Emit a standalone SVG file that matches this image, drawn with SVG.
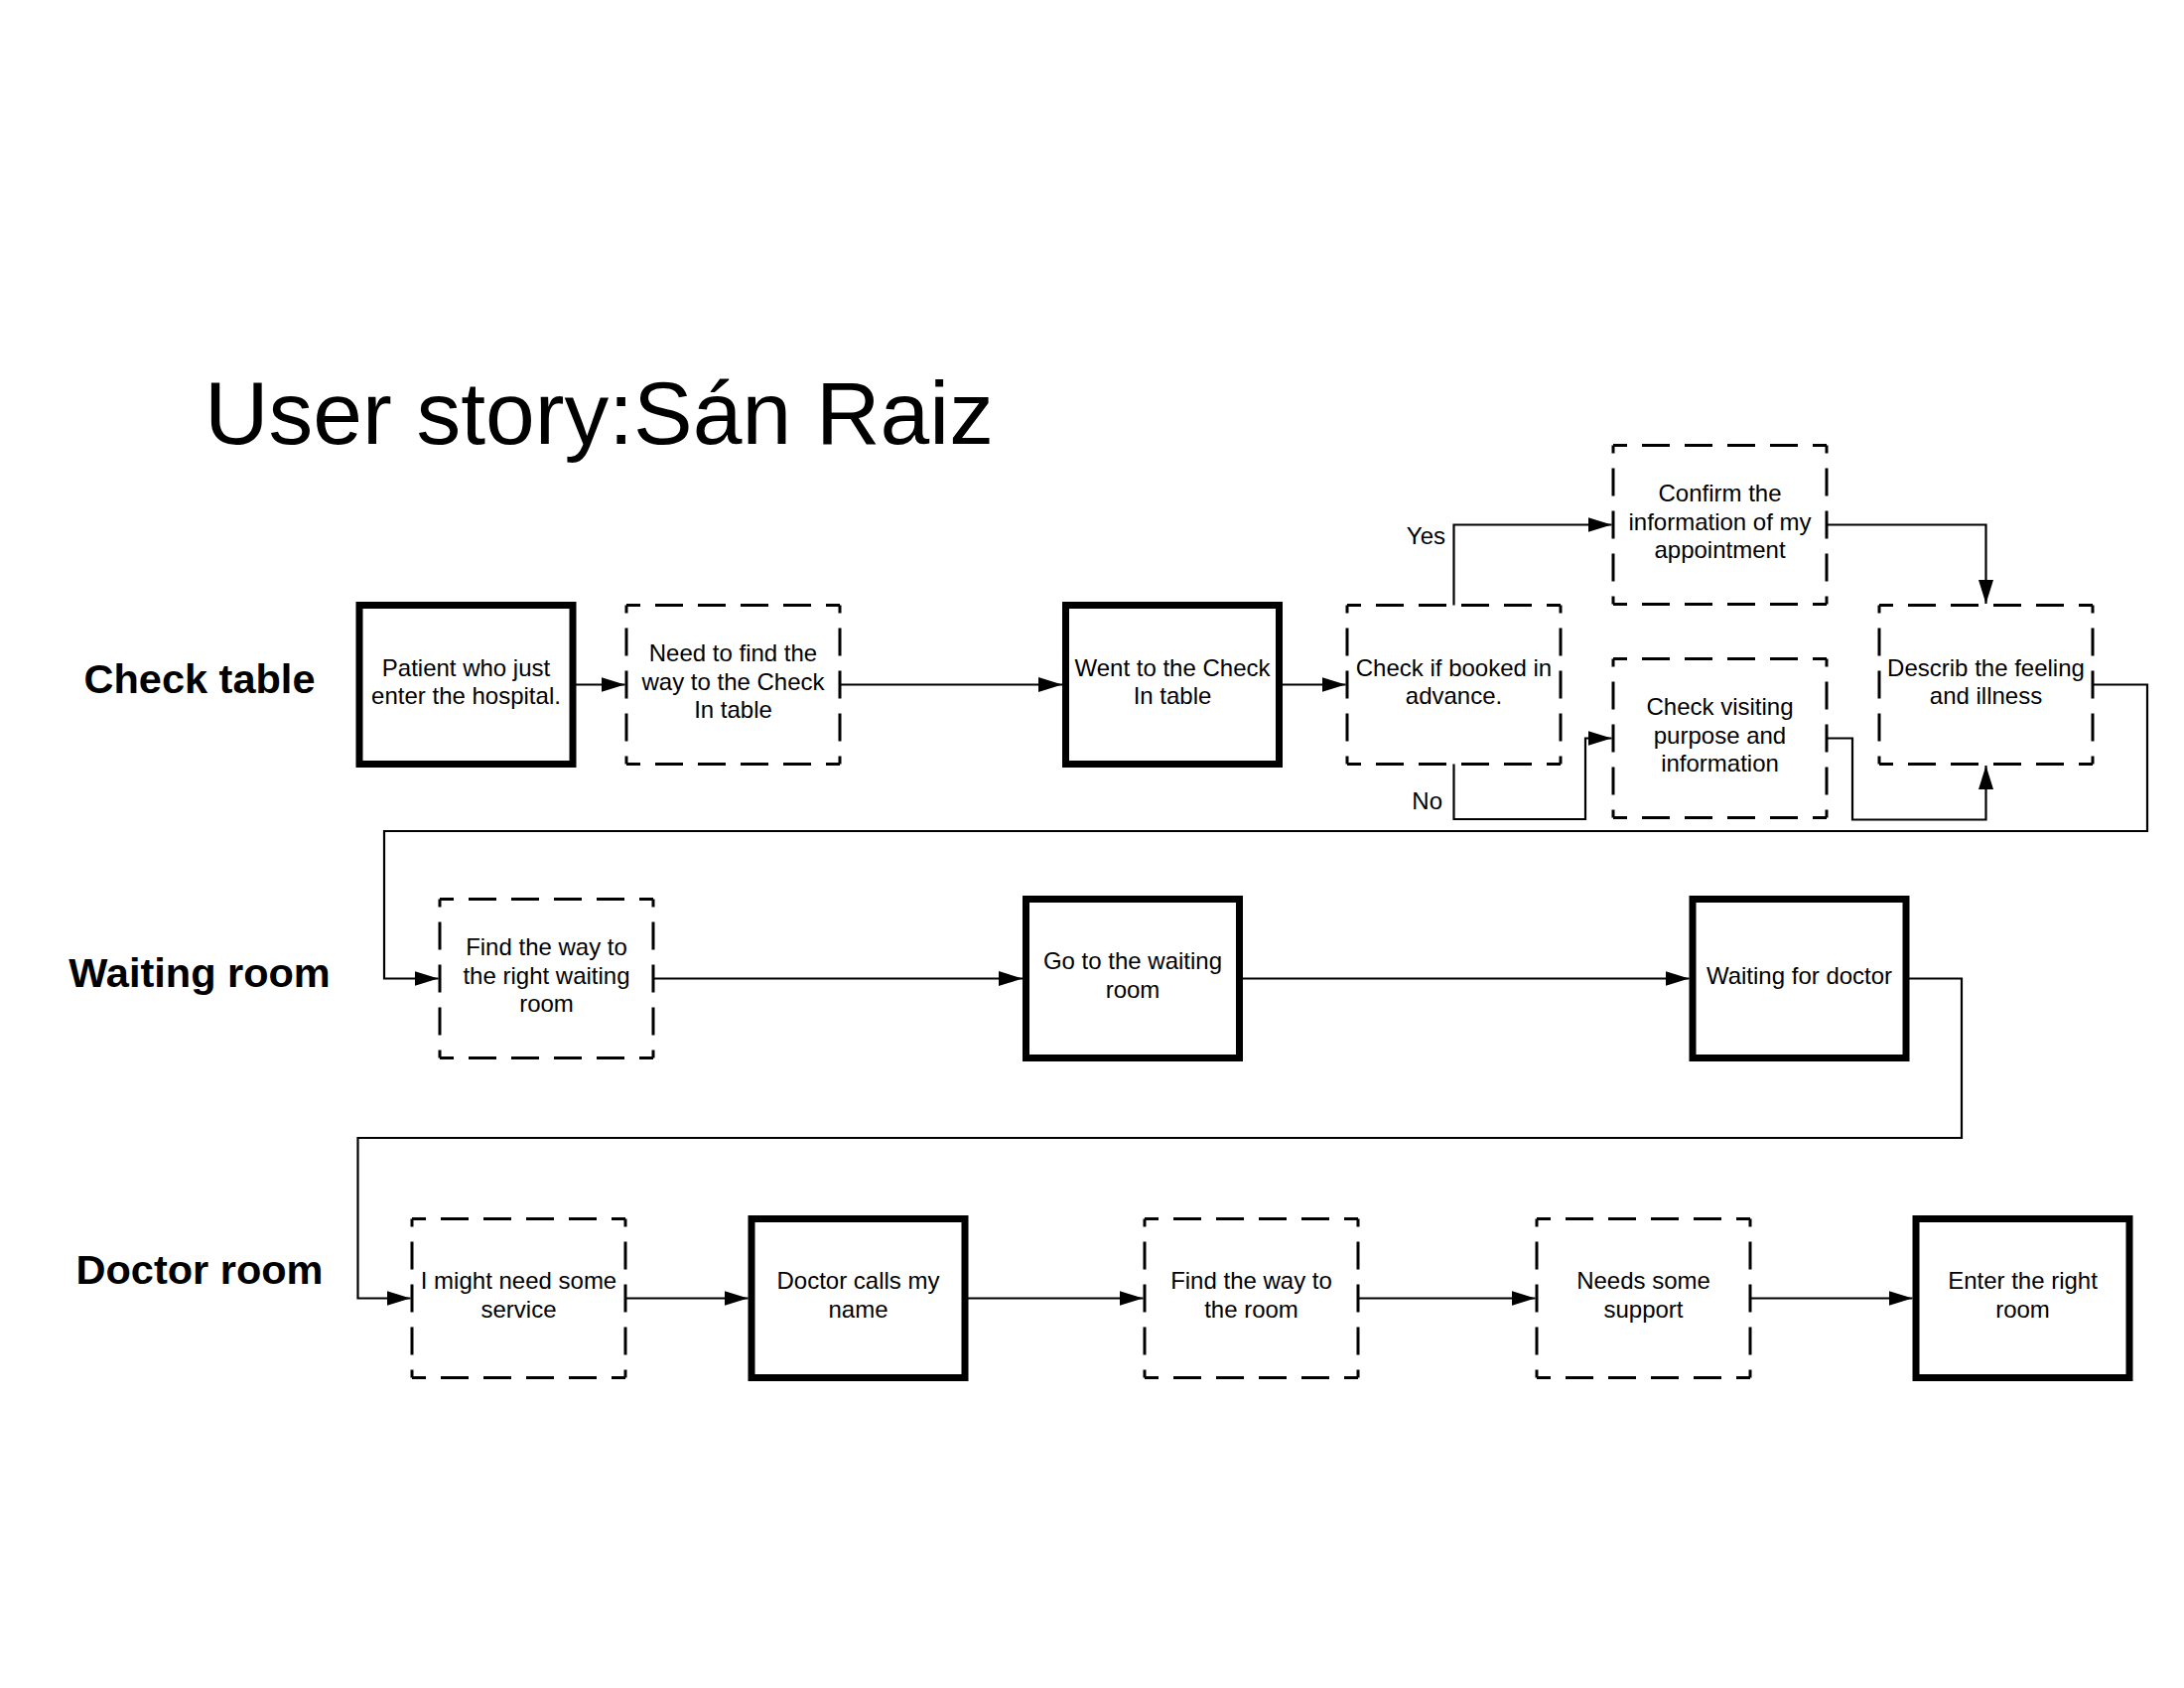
<svg xmlns="http://www.w3.org/2000/svg" width="2200" height="1700" viewBox="0 0 2200 1700">
<style>
text{font-family:"Liberation Sans",Arial,sans-serif;fill:#000}
.t{font-size:24px;text-anchor:middle}
.lane{font-size:41.5px;font-weight:bold;text-anchor:middle}
.lbl{font-size:24px;text-anchor:end}
.thick{fill:#fff;stroke:#000;stroke-width:7}
.bg{fill:#fff;stroke:none}
.dh{fill:none;stroke:#000;stroke-width:3;stroke-dasharray:28 15;stroke-dashoffset:14}
.dv{fill:none;stroke:#000;stroke-width:3;stroke-dasharray:28 15;stroke-dashoffset:20}
.c{fill:none;stroke:#000;stroke-width:2.2;marker-end:url(#ah)}
</style>
<defs>
<marker id="ah" markerUnits="userSpaceOnUse" markerWidth="24" markerHeight="15" refX="24" refY="7.5" orient="auto">
<path d="M0,0 L24,7.5 L0,15 z" fill="#000"/>
</marker>
</defs>
<rect x="0" y="0" width="2200" height="1700" fill="#fff"/>
<text x="206" y="447" style="font-size:89.4px">User story:Sán Raiz</text>
<g id="lanes">
<text class="lane" x="201" y="698">Check table</text>
<text class="lane" x="201" y="994">Waiting room</text>
<text class="lane" x="201" y="1293">Doctor room</text>
</g>
<g id="n1"><rect class="thick" x="362" y="609.5" width="215" height="160"/>
<text class="t" x="469.5" y="680.5">Patient who just</text><text class="t" x="469.5" y="709">enter the hospital.</text></g>
<g id="n2"><rect class="bg" x="631" y="609.5" width="215" height="160"/>
<path class="dh" d="M631 609.5h215M631 769.5h215"/><path class="dv" d="M631 609.5v160M846 609.5v160"/>
<text class="t" x="738.5" y="666.25">Need to find the</text><text class="t" x="738.5" y="694.75">way to the Check</text><text class="t" x="738.5" y="723.25">In table</text></g>
<g id="n3"><rect class="thick" x="1073.5" y="609.5" width="215" height="160"/>
<text class="t" x="1181" y="680.5">Went to the Check</text><text class="t" x="1181" y="709">In table</text></g>
<g id="n4"><rect class="bg" x="1357" y="609.5" width="215" height="160"/>
<path class="dh" d="M1357 609.5h215M1357 769.5h215"/><path class="dv" d="M1357 609.5v160M1572 609.5v160"/>
<text class="t" x="1464.5" y="680.5">Check if booked in</text><text class="t" x="1464.5" y="709">advance.</text></g>
<g id="n5"><rect class="bg" x="1625" y="448.5" width="215" height="160"/>
<path class="dh" d="M1625 448.5h215M1625 608.5h215"/><path class="dv" d="M1625 448.5v160M1840 448.5v160"/>
<text class="t" x="1732.5" y="505.25">Confirm the</text><text class="t" x="1732.5" y="533.75">information of my</text><text class="t" x="1732.5" y="562.25">appointment</text></g>
<g id="n6"><rect class="bg" x="1625" y="663.5" width="215" height="160"/>
<path class="dh" d="M1625 663.5h215M1625 823.5h215"/><path class="dv" d="M1625 663.5v160M1840 663.5v160"/>
<text class="t" x="1732.5" y="720.25">Check visiting</text><text class="t" x="1732.5" y="748.75">purpose and</text><text class="t" x="1732.5" y="777.25">information</text></g>
<g id="n7"><rect class="bg" x="1893" y="609.5" width="215" height="160"/>
<path class="dh" d="M1893 609.5h215M1893 769.5h215"/><path class="dv" d="M1893 609.5v160M2108 609.5v160"/>
<text class="t" x="2000.5" y="680.5">Describ the feeling</text><text class="t" x="2000.5" y="709">and illness</text></g>
<g id="n8"><rect class="bg" x="443" y="905.5" width="215" height="160"/>
<path class="dh" d="M443 905.5h215M443 1065.5h215"/><path class="dv" d="M443 905.5v160M658 905.5v160"/>
<text class="t" x="550.5" y="962">Find the way to</text><text class="t" x="550.5" y="990.5">the right waiting</text><text class="t" x="550.5" y="1019">room</text></g>
<g id="n9"><rect class="thick" x="1033.5" y="905.5" width="215" height="160"/>
<text class="t" x="1141" y="976">Go to the waiting</text><text class="t" x="1141" y="1004.5">room</text></g>
<g id="n10"><rect class="thick" x="1705" y="905.5" width="215" height="160"/>
<text class="t" x="1812.5" y="990.5">Waiting for doctor</text></g>
<g id="n11"><rect class="bg" x="415" y="1227.5" width="215" height="160"/>
<path class="dh" d="M415 1227.5h215M415 1387.5h215"/><path class="dv" d="M415 1227.5v160M630 1227.5v160"/>
<text class="t" x="522.5" y="1298">I might need some</text><text class="t" x="522.5" y="1326.5">service</text></g>
<g id="n12"><rect class="thick" x="757" y="1227.5" width="215" height="160"/>
<text class="t" x="864.5" y="1298">Doctor calls my</text><text class="t" x="864.5" y="1326.5">name</text></g>
<g id="n13"><rect class="bg" x="1153" y="1227.5" width="215" height="160"/>
<path class="dh" d="M1153 1227.5h215M1153 1387.5h215"/><path class="dv" d="M1153 1227.5v160M1368 1227.5v160"/>
<text class="t" x="1260.5" y="1298">Find the way to</text><text class="t" x="1260.5" y="1326.5">the room</text></g>
<g id="n14"><rect class="bg" x="1548" y="1227.5" width="215" height="160"/>
<path class="dh" d="M1548 1227.5h215M1548 1387.5h215"/><path class="dv" d="M1548 1227.5v160M1763 1227.5v160"/>
<text class="t" x="1655.5" y="1298">Needs some</text><text class="t" x="1655.5" y="1326.5">support</text></g>
<g id="n15"><rect class="thick" x="1930" y="1227.5" width="215" height="160"/>
<text class="t" x="2037.5" y="1298">Enter the right</text><text class="t" x="2037.5" y="1326.5">room</text></g>
<g id="connectors">
<path class="c" d="M577 689.5H629.5"/>
<path class="c" d="M846 689.5H1070"/>
<path class="c" d="M1288.5 689.5H1355.5"/>
<path class="c" d="M1464.5 609.5V528.5H1623.5"/>
<path class="c" d="M1464.5 769.5V825H1597V743.5H1623.5"/>
<path class="c" d="M1840 528.5H2000.5V608"/>
<path class="c" d="M1840 743.5H1866V825.5H2000.5V771"/>
<path class="c" d="M2108 689.5H2163V837H387V985.5H441.5"/>
<path class="c" d="M658 985.5H1030"/>
<path class="c" d="M1248.5 985.5H1701.5"/>
<path class="c" d="M1920 985.5H1976V1146H360.5V1307.5H413.5"/>
<path class="c" d="M630 1307.5H753.5"/>
<path class="c" d="M971.5 1307.5H1151.5"/>
<path class="c" d="M1368 1307.5H1546.5"/>
<path class="c" d="M1763 1307.5H1926.5"/>
<text class="lbl" x="1456" y="548">Yes</text>
<text class="lbl" x="1453" y="815">No</text>
</g>
</svg>
